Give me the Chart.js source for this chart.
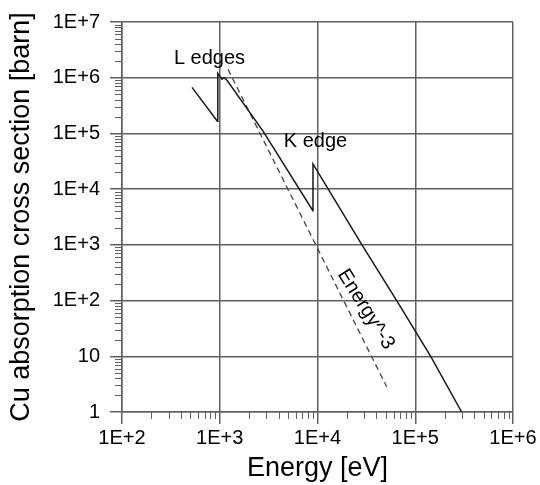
<!DOCTYPE html>
<html>
<head>
<meta charset="utf-8">
<script src="https://cdn.jsdelivr.net/npm/chart.js@4.4.1/dist/chart.umd.min.js"></script>
<style>
  html, body { margin: 0; padding: 0; background: #fff; }
  #wrap { width: 540px; height: 485px; }
</style>
</head>
<body>
<div id="wrap"><canvas id="chart" width="540" height="485"></canvas></div>
<script>
// Cu absorption cross section (solid line)
const cuEnergy = [520, 945, 955, 1055, 1105, 1186, 2770, 8970, 8990, 28500, 64600, 143900, 298500];
const cuSigma  = [6.7e5, 1.66e5, 1.2e6, 9.4e5, 1.0e6, 9.0e5, 1.1e5, 4.1e3, 2.83e4, 1.0e3, 100, 10, 1];

// Energy^-3 guide line (dashed)
const fitEnergy = [1213, 51000];
const fitSigma  = [1.42e6, 2.84];

// Tick labels (decades only)
const xTickValues = [1e2, 1e3, 1e4, 1e5, 1e6];
const xTickLabels = ['1E+2', '1E+3', '1E+4', '1E+5', '1E+6'];
const yTickValues = [1, 10, 1e2, 1e3, 1e4, 1e5, 1e6, 1e7];
const yTickLabels = ['1', '10', '1E+2', '1E+3', '1E+4', '1E+5', '1E+6', '1E+7'];

// Text labels placed in data space
const noteText   = ['L edges', 'K edge', 'Energy^-3'];
const noteEnergy = [785, 9540, 31300];
const noteSigma  = [2.23e6, 7.3e4, 69.5];
const noteAngle  = [0, 0, 58];

const FONT = "'Liberation Sans', Arial, sans-serif";
const gridColor = '#606060';
const textColor = '#000';

function isDecade(v) {
    const l = Math.log10(v);
    return Math.abs(l - Math.round(l)) < 1e-9;
}
function isWholeStep(v) {
    const m = v / Math.pow(10, Math.floor(Math.log10(v) + 1e-9));
    return Math.abs(m - Math.round(m)) < 1e-6;
}
function labelFor(v, values, labels) {
    for (let i = 0; i < values.length; i++) {
        if (Math.abs(Math.log10(v) - Math.log10(values[i])) < 1e-9) return labels[i];
    }
    return '';
}

// short ticks for 2..9 of each decade
const minorTicks = {
    id: 'minorTicks',
    afterDraw(chart) {
        const c = chart.ctx;
        const xs = chart.scales.x, ys = chart.scales.y;
        c.save();
        c.strokeStyle = gridColor;
        c.lineWidth = 1;
        c.beginPath();
        xs.ticks.forEach(t => {
            if (isDecade(t.value) || !isWholeStep(t.value)) return;
            const px = Math.round(xs.getPixelForValue(t.value)) + 0.5;
            c.moveTo(px, xs.top);
            c.lineTo(px, xs.top + 7);
        });
        ys.ticks.forEach(t => {
            if (isDecade(t.value) || !isWholeStep(t.value)) return;
            const py = Math.round(ys.getPixelForValue(t.value)) + 0.5;
            c.moveTo(ys.right, py);
            c.lineTo(ys.right - 7, py);
        });
        c.stroke();
        c.restore();
    }
};

// "L edges", "K edge", "Energy^-3"
const notes = {
    id: 'notes',
    afterDatasetsDraw(chart) {
        const c = chart.ctx;
        c.save();
        c.fillStyle = textColor;
        c.font = '20px ' + FONT;
        c.textAlign = 'center';
        c.textBaseline = 'middle';
        noteText.forEach((txt, i) => {
            const px = chart.scales.x.getPixelForValue(noteEnergy[i]);
            const py = chart.scales.y.getPixelForValue(noteSigma[i]);
            c.save();
            c.translate(px, py);
            c.rotate(noteAngle[i] * Math.PI / 180);
            c.fillText(txt, 0, 0);
            c.restore();
        });
        c.restore();
    }
};

const toPoints = (xs, ys) => xs.map((x, i) => ({ x: x, y: ys[i] }));

const ctx = document.getElementById('chart').getContext('2d');
const chart = new Chart(ctx, {
    type: 'line',
    data: {
        datasets: [{
            label: 'Cu',
            data: toPoints(cuEnergy, cuSigma),
            borderColor: '#1a1a1a',
            borderWidth: 1.5,
            pointRadius: 0,
            tension: 0
        }, {
            label: 'Energy^-3',
            data: toPoints(fitEnergy, fitSigma),
            borderColor: '#444',
            borderWidth: 1.3,
            borderDash: [6, 4],
            pointRadius: 0,
            tension: 0
        }]
    },
    options: {
        responsive: false,
        devicePixelRatio: 1,
        animation: false,
        layout: { padding: { top: 20, right: 27, left: 0, bottom: 0 } },
        plugins: { legend: { display: false }, tooltip: { enabled: false } },
        scales: {
            x: {
                type: 'logarithmic',
                position: 'bottom',
                min: 100,
                max: 1e6,
                afterFit: s => { s.height = 73; },
                border: { display: true, color: gridColor, width: 1.5 },
                grid: {
                    color: c => isDecade(c.tick.value) ? gridColor : 'rgba(0,0,0,0)',
                    tickColor: c => isDecade(c.tick.value) ? gridColor : 'rgba(0,0,0,0)',
                    lineWidth: 1.5,
                    tickLength: 12
                },
                ticks: {
                    autoSkip: false,
                    maxRotation: 0,
                    padding: 2,
                    color: textColor,
                    font: { family: FONT, size: 20 },
                    callback: v => labelFor(v, xTickValues, xTickLabels)
                },
                title: {
                    display: true,
                    text: 'Energy [eV]',
                    color: textColor,
                    font: { family: FONT, size: 27 },
                    padding: { top: 0, bottom: 0 }
                }
            },
            y: {
                type: 'logarithmic',
                position: 'left',
                min: 1,
                max: 1e7,
                afterFit: s => { s.width = 122; },
                border: { display: true, color: gridColor, width: 1.5 },
                grid: {
                    color: c => isDecade(c.tick.value) ? gridColor : 'rgba(0,0,0,0)',
                    tickColor: c => isDecade(c.tick.value) ? gridColor : 'rgba(0,0,0,0)',
                    lineWidth: 1.5,
                    tickLength: 12
                },
                ticks: {
                    autoSkip: false,
                    padding: 10,
                    color: textColor,
                    font: { family: FONT, size: 20 },
                    callback: v => labelFor(v, yTickValues, yTickLabels)
                },
                title: {
                    display: true,
                    text: 'Cu absorption cross section [barn]',
                    color: textColor,
                    font: { family: FONT, size: 27 },
                    padding: { top: 5, bottom: 0 }
                }
            }
        }
    },
    plugins: [minorTicks, notes]
});
</script>
</body>
</html>
